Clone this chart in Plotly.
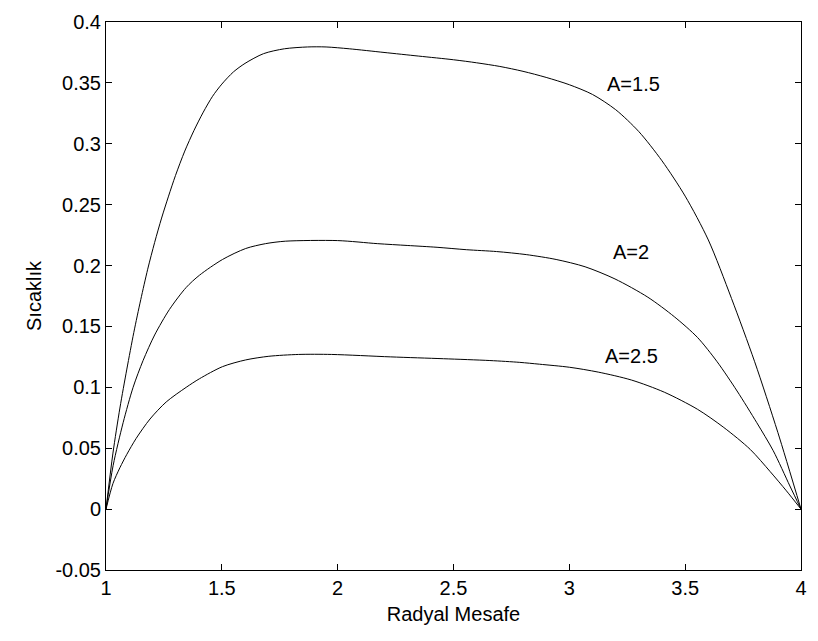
import plotly.graph_objects as go

# Radyal mesafe (x) and Sıcaklık (y) values
x_a15 = [1.0, 1.03, 1.06, 1.09, 1.12, 1.15, 1.18, 1.21, 1.24, 1.27, 1.30, 1.34, 1.38, 1.42,
         1.46, 1.50, 1.55, 1.60, 1.68, 1.77, 1.87, 1.95, 2.05, 2.2, 2.35, 2.5, 2.6, 2.7, 2.8,
         2.9, 3.0, 3.1, 3.2, 3.3, 3.4, 3.5, 3.6, 3.7, 3.8, 3.9, 4.0]
y_a15 = [0.0, 0.046, 0.083, 0.115, 0.145, 0.172, 0.197, 0.219, 0.239, 0.257, 0.274, 0.294, 0.311,
         0.326, 0.339, 0.349, 0.359, 0.366, 0.374, 0.378, 0.3795, 0.3795, 0.378, 0.375, 0.372,
         0.369, 0.3665, 0.3635, 0.3595, 0.3545, 0.3485, 0.3405, 0.328, 0.310, 0.286, 0.257,
         0.221, 0.173, 0.121, 0.063, 0.0]

x_a2 = [1.0, 1.031, 1.074, 1.117, 1.16, 1.21, 1.274, 1.346, 1.403, 1.503, 1.603, 1.689, 1.774,
        2.0, 2.171, 2.3, 2.429, 2.557, 2.686, 2.814, 2.943, 3.068, 3.197, 3.339, 3.453, 3.553,
        3.638, 3.724, 3.809, 3.88, 3.952, 4.0]
y_a2 = [0.0, 0.036, 0.071, 0.100, 0.122, 0.143, 0.164, 0.182, 0.192, 0.205, 0.214, 0.218, 0.220,
        0.2205, 0.218, 0.2165, 0.215, 0.213, 0.2115, 0.209, 0.205, 0.199, 0.189, 0.174, 0.158,
        0.141, 0.121, 0.097, 0.071, 0.048, 0.019, 0.0]

x_a25 = [1.0, 1.03, 1.06, 1.09, 1.13, 1.19, 1.26, 1.346, 1.403, 1.503, 1.603, 1.703, 1.831, 1.974,
         2.229, 2.457, 2.657, 2.786, 2.871, 3.0, 3.125, 3.268, 3.41, 3.553, 3.667, 3.781,
         3.866, 3.937, 4.0]
y_a25 = [0.0, 0.021, 0.034, 0.045, 0.058, 0.074, 0.088, 0.100, 0.107, 0.117, 0.1225, 0.1255,
         0.127, 0.127, 0.125, 0.1235, 0.122, 0.1205, 0.119, 0.1165, 0.1125, 0.106, 0.096, 0.082,
         0.067, 0.049, 0.031, 0.015, 0.0]

labels = ["A=1.5", "A=2", "A=2.5"]
label_x = [3.275, 3.265, 3.268]
label_y = [0.349, 0.211, 0.126]

x_ticks = [1, 1.5, 2, 2.5, 3, 3.5, 4]
x_ticktext = ["1", "1.5", "2", "2.5", "3", "3.5", "4"]
y_ticks = [-0.05, 0, 0.05, 0.1, 0.15, 0.2, 0.25, 0.3, 0.35, 0.4]
y_ticktext = ["-0.05", "0", "0.05", "0.1", "0.15", "0.2", "0.25", "0.3", "0.35", "0.4"]

FONT = "Liberation Sans, Arial, sans-serif"
FS = 20

fig = go.Figure()
for xs, ys in [(x_a15, y_a15), (x_a2, y_a2), (x_a25, y_a25)]:
    fig.add_trace(go.Scatter(x=xs, y=ys, mode="lines",
                             line=dict(color="black", width=1, shape="spline", smoothing=0.8),
                             showlegend=False, hoverinfo="skip"))

for t, lx, ly in zip(labels, label_x, label_y):
    fig.add_annotation(x=lx, y=ly, text=t, showarrow=False,
                       font=dict(family=FONT, size=FS, color="black"))

axis_common = dict(showline=True, linecolor="black", linewidth=1, mirror="allticks",
                   ticks="inside", ticklen=6, tickcolor="black", showgrid=False, zeroline=False,
                   tickfont=dict(family=FONT, size=FS, color="black"))

fig.update_xaxes(range=[1, 4], tickvals=x_ticks, ticktext=x_ticktext,
                 title=dict(text="Radyal Mesafe", font=dict(family=FONT, size=FS, color="black"),
                            standoff=8), **axis_common)
fig.update_yaxes(range=[-0.05, 0.4], tickvals=y_ticks, ticktext=y_ticktext,
                 title=dict(text="Sıcaklık", font=dict(family=FONT, size=FS, color="black"),
                            standoff=8), **axis_common)

fig.update_layout(width=818, height=641, margin=dict(l=106, r=11, t=14, b=71),
                  plot_bgcolor="white", paper_bgcolor="white")

fig.write_html("out.html")
